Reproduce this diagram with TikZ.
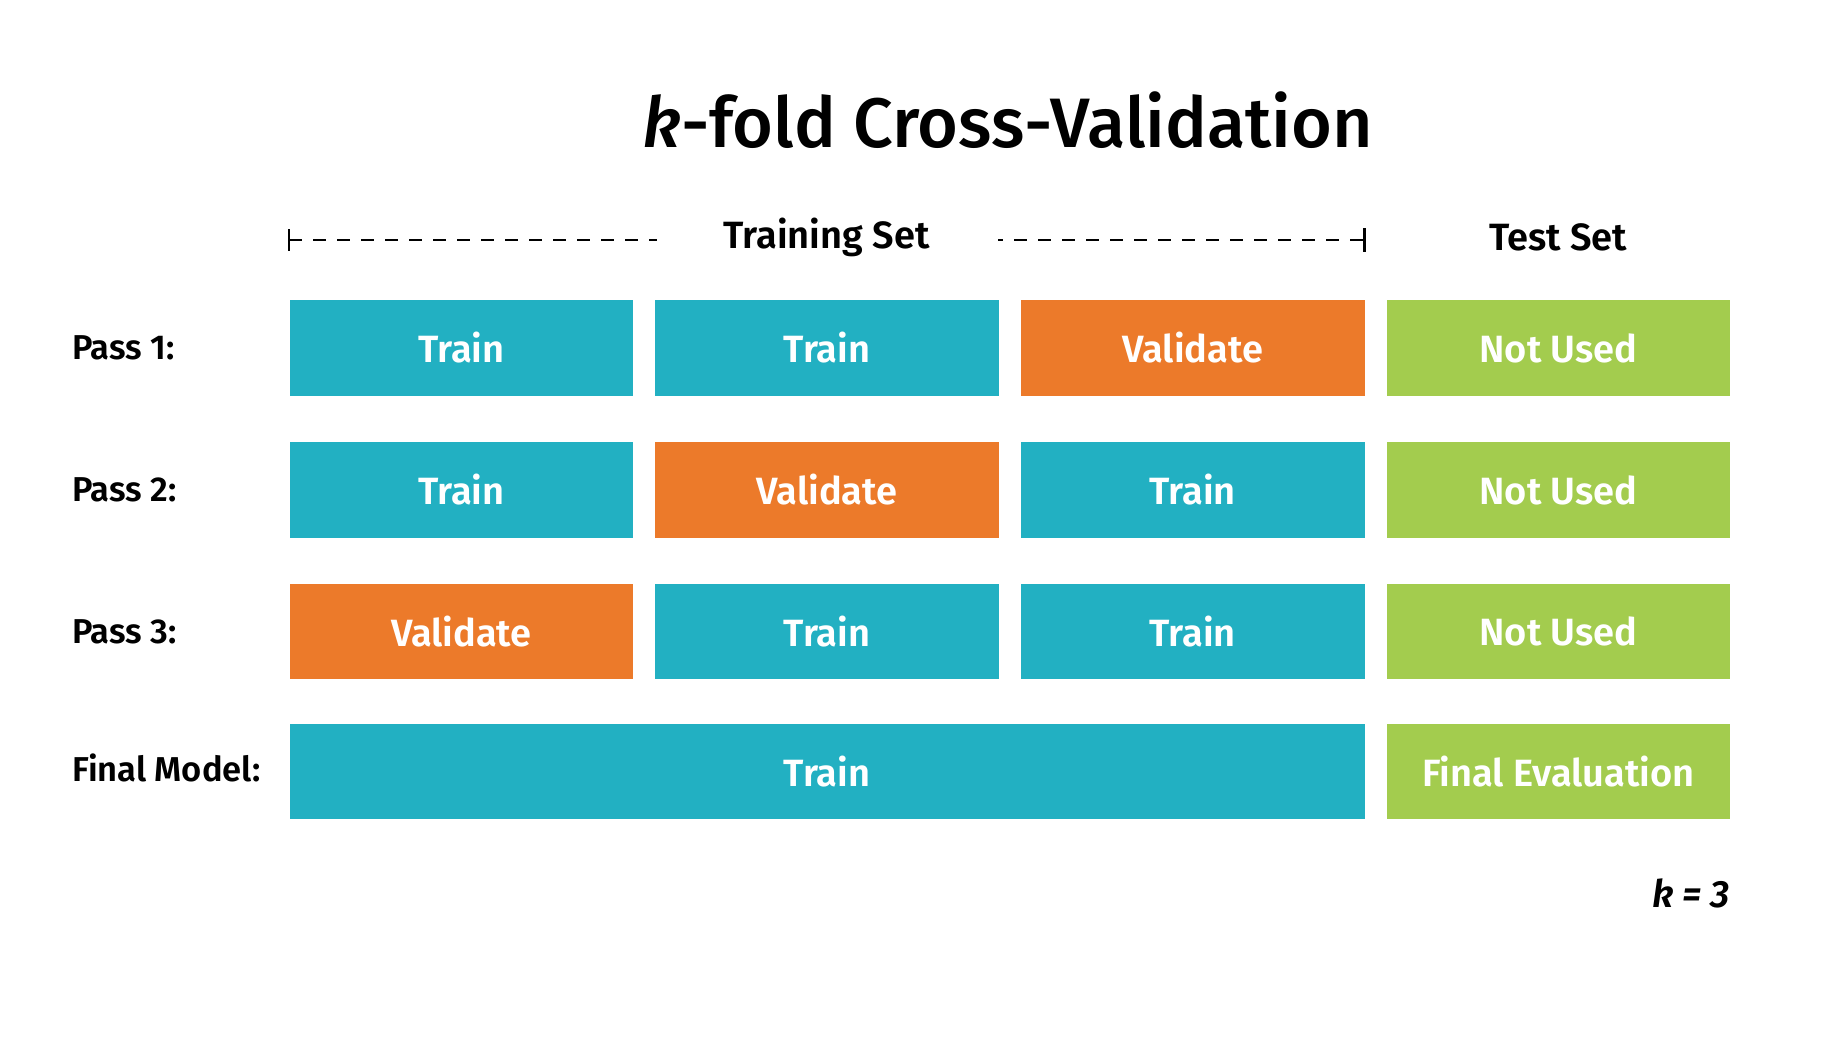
\documentclass[tikz,border=0pt]{standalone}
\usepackage{fontspec}
\setmainfont{Fira Sans}[BoldFont={Fira Sans SemiBold},BoldItalicFont={Fira Sans SemiBold Italic}]
\newfontfamily\titlefont{Fira Sans Medium}[ItalicFont={Fira Sans Medium Italic}]
\usepackage{tikz}
\usetikzlibrary{positioning}
\definecolor{cvteal}{HTML}{22B0C2}
\definecolor{cvorange}{HTML}{EC7A2A}
\definecolor{cvgreen}{HTML}{A3CC4E}

\begin{document}
\begin{tikzpicture}[
 x=1pt,y=-1pt,
 fold/.style={minimum width=343.5pt,minimum height=95.6pt,inner sep=0pt,
   anchor=north west,text=white,font=\fontsize{38}{44}\selectfont\bfseries},
 trainbox/.style={fold,fill=cvteal},
 valbox/.style={fold,fill=cvorange},
 testbox/.style={fold,fill=cvgreen},
 passlabel/.style={anchor=west,inner sep=0pt,font=\fontsize{34.5}{40}\selectfont\bfseries},
 header/.style={inner sep=0pt,font=\fontsize{38}{44}\selectfont\bfseries},
 brace/.style={line width=2pt,dash pattern=on 13pt off 11pt}
]
\useasboundingbox (0,0) rectangle (1830,1048);
% title
\node[inner sep=0pt,font=\titlefont\fontsize{70}{80}\selectfont] (title) at (1008,120)
 {\textit{k}-fold Cross-Validation};
% headers
\node[header] (trainset) at (826.5,237) {Training Set};
\node[header] (testset) at (1558.3,237) {Test Set};
% pass 1
\node[trainbox] (p1a) at (289.4,300) {Train};
\node[trainbox] (p1b) at (655.1,300) {Train};
\node[valbox]   (p1c) at (1020.8,300) {Validate};
\node[testbox]  (p1d) at (1386.5,300) {Not Used};
% pass 2
\node[trainbox] (p2a) at (289.4,442) {Train};
\node[valbox]   (p2b) at (655.1,442) {Validate};
\node[trainbox] (p2c) at (1020.8,442) {Train};
\node[testbox]  (p2d) at (1386.5,442) {Not Used};
% pass 3
\node[valbox]   (p3a) at (289.4,583.6) {Validate};
\node[trainbox] (p3b) at (655.1,583.6) {Train};
\node[trainbox] (p3c) at (1020.8,583.6) {Train};
\node[testbox]  (p3d) at (1386.5,583.6) {Not Used};
% final model
\node[trainbox,minimum width=1074.9pt] (fma) at (289.4,723.6) {Train};
\node[testbox]  (fmb) at (1386.5,723.6) {Final Evaluation};
% row labels
\node[passlabel] (l1) at (p1a.west -| 72,0) {Pass 1:};
\node[passlabel] (l2) at (p2a.west -| 72,0) {Pass 2:};
\node[passlabel] (l3) at (p3a.west -| 72,0) {Pass 3:};
\node[passlabel] (l4) at (72,768) {Final Model:};
% training set bracket
\coordinate (bl) at (p1a.north west |- 0,240);
\coordinate (br) at (p1c.north east |- 0,240);
\coordinate (blend) at (657,240);
\coordinate (brstart) at (998,240);
\draw[brace] (bl) -- (blend);
\draw[brace,dash phase=8pt] (brstart) -- (br);
\draw[line width=2pt] ([yshift=-11pt]bl) -- ([yshift=11pt]bl);
\draw[line width=2.6pt] ([yshift=-12pt]br) -- ([yshift=12pt]br);
% k
\node[anchor=east,inner sep=0pt,font=\fontsize{38}{44}\selectfont\bfseries\itshape]
 (kval) at (1730,893) {k = 3};
\end{tikzpicture}
\end{document}
